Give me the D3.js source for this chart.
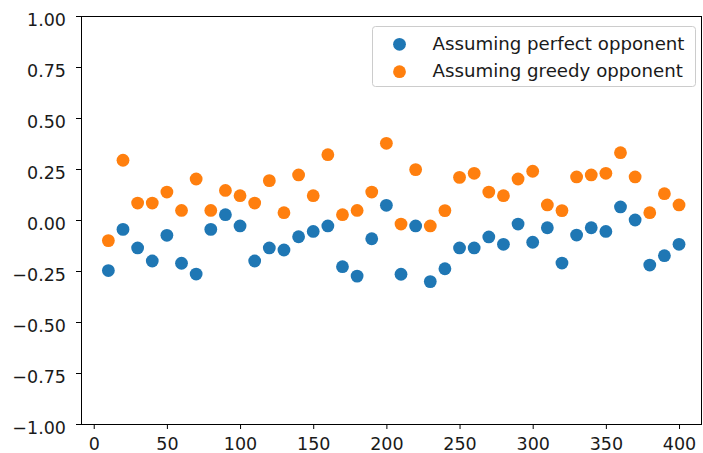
<!DOCTYPE html>
<html>
<head>
<meta charset="utf-8">
<script src="https://cdn.jsdelivr.net/npm/d3@7"></script>
<style>
  html, body { margin: 0; padding: 0; background: #fff; }
  svg { display: block; font-family: "DejaVu Sans", sans-serif; }
</style>
</head>
<body>
<svg id="chart" width="703" height="453"></svg>
<script>
const xValues = [10,20,30,40,50,60,70,80,90,100,110,120,130,140,150,160,170,180,190,200,
                 210,220,230,240,250,260,270,280,290,300,310,320,330,340,350,360,370,380,390,400];
const perfectValues = [-0.248,-0.046,-0.137,-0.201,-0.075,-0.212,-0.265,-0.046,0.026,-0.029,
                       -0.201,-0.137,-0.147,-0.082,-0.056,-0.029,-0.229,-0.275,-0.092,0.072,
                       -0.266,-0.029,-0.302,-0.239,-0.137,-0.137,-0.083,-0.119,-0.020,-0.109,
                       -0.038,-0.211,-0.074,-0.038,-0.056,0.064,0.000,-0.221,-0.175,-0.119];
const greedyValues = [-0.101,0.293,0.083,0.083,0.137,0.047,0.201,0.047,0.145,0.119,
                      0.083,0.193,0.036,0.221,0.119,0.320,0.026,0.047,0.137,0.376,
                      -0.020,0.247,-0.029,0.046,0.209,0.229,0.137,0.119,0.201,0.239,
                      0.074,0.046,0.211,0.221,0.229,0.330,0.211,0.036,0.129,0.074];
const seriesNames = ["Assuming perfect opponent", "Assuming greedy opponent"];
const seriesColors = ["#1f77b4", "#ff7f0e"];
const xTicks = [0,50,100,150,200,250,300,350,400];
const yTicks = [-1.00,-0.75,-0.50,-0.25,0.00,0.25,0.50,0.75,1.00];

(function () {
const svg = d3.select("#chart");
const pLeft = 81, pRight = 702, pTop = 16, pBottom = 424;

const xScale = d3.scaleLinear().domain([-8.7, 415.7]).range([pLeft, pRight]);
const yScale = d3.scaleLinear().domain([-1, 1]).range([pBottom, pTop]);

const fmtY = d3.format(".2f");

const xAxis = d3.axisBottom(xScale).tickValues(xTicks).tickSize(5).tickPadding(9).tickFormat(d3.format("d"));
const yAxis = d3.axisLeft(yScale).tickValues(yTicks).tickSize(5).tickPadding(10).tickFormat(fmtY);

const gx = svg.append("g").attr("transform", `translate(0,${pBottom})`).call(xAxis);
const gy = svg.append("g").attr("transform", `translate(${pLeft},0)`).call(yAxis);
[gx, gy].forEach(g => {
  g.select(".domain").remove();
  g.selectAll(".tick line").attr("stroke", "#000").attr("stroke-width", 1);
  g.selectAll(".tick text").attr("fill", "#1a1a1a").style("font-size", "17.5px")
   .style("font-family", "'DejaVu Sans', sans-serif");
});
gy.selectAll(".tick text").attr("dy", "0.52em");

svg.append("rect")
  .attr("x", pLeft + 0.5).attr("y", pTop + 0.5)
  .attr("width", pRight - pLeft - 1).attr("height", pBottom - pTop)
  .attr("fill", "none").attr("stroke", "#000").attr("stroke-width", 1);

const series = [perfectValues, greedyValues];
series.forEach((vals, si) => {
  svg.append("g").selectAll("circle")
    .data(xValues.map((xv, i) => [xv, vals[i]]))
    .join("circle")
    .attr("cx", d => xScale(d[0]))
    .attr("cy", d => yScale(d[1]))
    .attr("r", 6.4)
    .attr("fill", seriesColors[si]);
});

const lg = svg.append("g");
lg.append("rect")
  .attr("x", 372.5).attr("y", 26.5).attr("width", 323).attr("height", 60)
  .attr("rx", 3).attr("ry", 3)
  .attr("fill", "#fff").attr("fill-opacity", 0.8)
  .attr("stroke", "#cccccc").attr("stroke-width", 1);
seriesNames.forEach((name, i) => {
  const cy = 44.3 + i * 27.4;
  lg.append("circle").attr("cx", 399.5).attr("cy", cy).attr("r", 6.4).attr("fill", seriesColors[i]);
  lg.append("text").attr("x", 432.5).attr("y", cy + 5.5)
    .attr("fill", "#1a1a1a").style("font-size", "18.2px").text(name);
});
})();
</script>
</body>
</html>
